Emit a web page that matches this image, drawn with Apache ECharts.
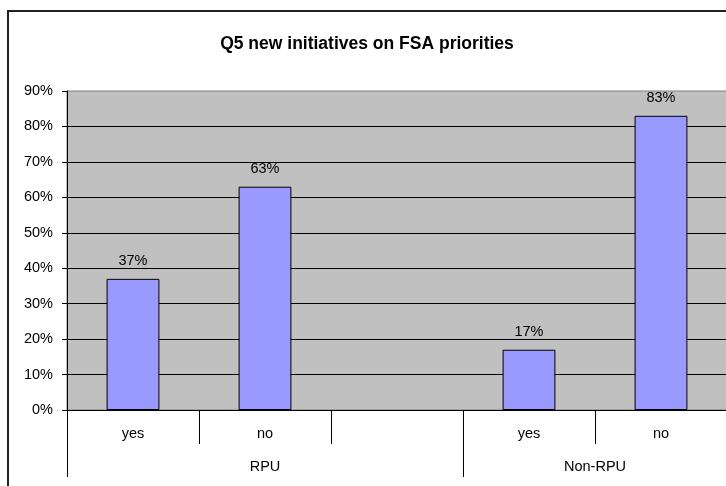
<!DOCTYPE html>
<html>
<head>
<meta charset="utf-8">
<script src="https://cdn.jsdelivr.net/npm/echarts@6/dist/echarts.min.js"></script>
<style>
  html, body { margin: 0; padding: 0; background: #fff; }
  #chart { width: 726px; height: 486px; }
</style>
</head>
<body>
<div id="chart"></div>
<script>
// Answers per category; the empty slot separates the two groups
const categories = ['yes', 'no', '', 'yes', 'no'];
const shares = [37, 63, null, 17, 83];
// Group labels and how many category slots each one spans
const groups = ['RPU', 'Non-RPU'];
const groupSpans = [3, 2];
const yTicks = [0, 10, 20, 30, 40, 50, 60, 70, 80, 90];

// Group axis: half-slot points so each group label sits at its span centre
const groupSlots = new Array(categories.length * 2 + 1).fill('');
const groupEdges = new Set();
let start = 0;
groups.forEach((g, i) => {
  groupSlots[2 * start + groupSpans[i]] = g;
  groupEdges.add(2 * start);
  start += groupSpans[i];
});
groupEdges.add(2 * start);

const FONT = '"Liberation Sans", Arial, sans-serif';
const LABEL_SIZE = 14.5;
const chart = echarts.init(document.getElementById('chart'), null, { renderer: 'canvas' });

chart.setOption({
  backgroundColor: '#ffffff',
  animation: false,
  title: {
    text: 'Q5 new initiatives on FSA priorities',
    left: 362,
    top: 30,
    textAlign: 'center',
    textStyle: { fontFamily: FONT, fontSize: 17.5, fontWeight: 'bold', color: '#000' }
  },
  graphic: [{
    type: 'rect',
    shape: { x: 8, y: 11, width: 900, height: 700 },
    style: { fill: 'none', stroke: '#222', lineWidth: 2 },
    silent: true,
    z: 0
  }],
  grid: {
    left: 67,
    top: 91,
    width: 660,
    height: 319,
    show: true,
    backgroundColor: '#C0C0C0',
    borderColor: '#808080',
    borderWidth: 1,
    containLabel: false,
    outerBoundsMode: 'none'
  },
  xAxis: [{
    type: 'category',
    data: categories,
    position: 'bottom',
    boundaryGap: true,
    axisLine: { show: true, lineStyle: { color: '#000', width: 1 } },
    axisTick: { show: true, interval: 0, length: 34, lineStyle: { color: '#000' } },
    axisLabel: { interval: 0, margin: 16, fontFamily: FONT, fontSize: LABEL_SIZE, color: '#000' },
    splitLine: { show: false }
  }, {
    type: 'category',
    data: groupSlots,
    position: 'bottom',
    boundaryGap: false,
    axisLine: { show: false },
    axisTick: {
      show: true,
      length: 67,
      interval: (idx) => groupEdges.has(idx),
      lineStyle: { color: '#000' }
    },
    axisLabel: { interval: 0, margin: 49, fontFamily: FONT, fontSize: LABEL_SIZE, color: '#000' },
    splitLine: { show: false }
  }],
  yAxis: {
    type: 'value',
    min: yTicks[0],
    max: yTicks[yTicks.length - 1],
    interval: 10,
    axisLine: { show: true, lineStyle: { color: '#000', width: 1 } },
    axisTick: { show: true, length: 5, lineStyle: { color: '#000' } },
    axisLabel: { formatter: '{value}%', margin: 14, fontFamily: FONT, fontSize: LABEL_SIZE, color: '#000' },
    splitLine: { show: true, showMaxLine: false, lineStyle: { color: '#000', width: 1 } }
  },
  series: [{
    type: 'bar',
    xAxisIndex: 0,
    data: shares,
    barWidth: '40%',
    itemStyle: { color: '#9999FF', borderColor: '#000', borderWidth: 1 },
    label: {
      show: true,
      position: 'top',
      distance: 10,
      formatter: '{c}%',
      fontFamily: FONT,
      fontSize: LABEL_SIZE,
      color: '#000'
    }
  }]
});
</script>
</body>
</html>
